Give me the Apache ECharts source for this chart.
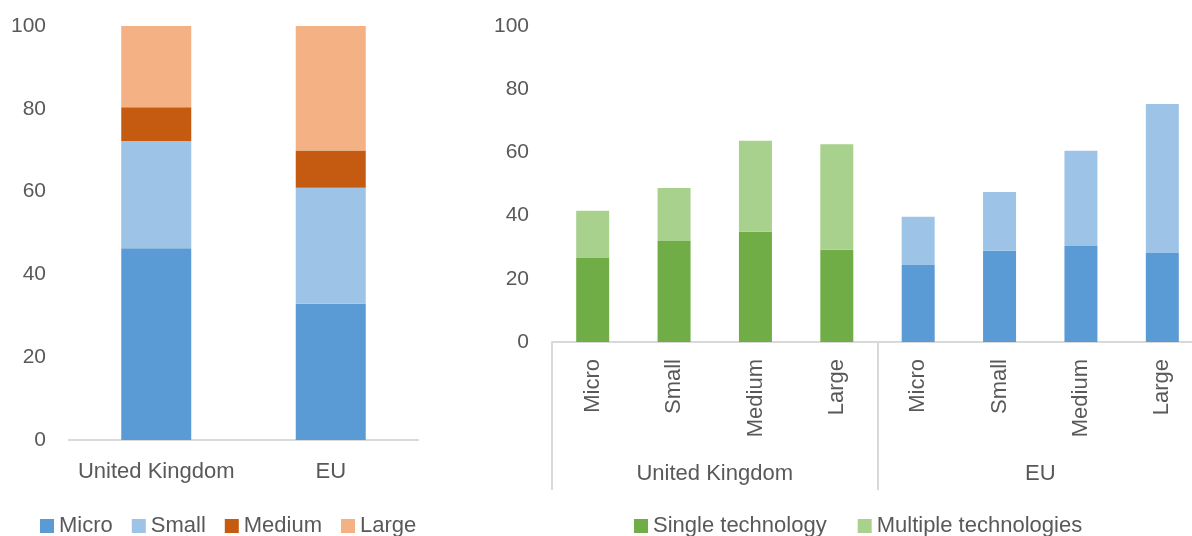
<!DOCTYPE html>
<html>
<head>
<meta charset="utf-8">
<script src="https://cdn.jsdelivr.net/npm/echarts@6/dist/echarts.min.js"></script>
<style>
html,body{margin:0;padding:0;background:#fff;overflow:hidden;width:1192px;height:536px;}
#c{width:1212px;height:536px;}
</style>
</head>
<body>
<div id="c"></div>
<script>
// ---- Left chart data ----
var leftCategories = ['United Kingdom', 'EU'];
var leftSeriesNames = ['Micro', 'Small', 'Medium', 'Large'];
var leftMicro = [46.3, 32.9];
var leftSmall = [25.9, 28.0];
var leftMedium = [8.2, 9.0];
var leftLarge = [19.6, 30.1];

// ---- Right chart data ----
var rightGroups = ['United Kingdom', 'EU'];
var rightSizes = ['Micro', 'Small', 'Medium', 'Large', 'Micro', 'Small', 'Medium', 'Large'];
var ukSingle = [26.6, 32.0, 34.9, 29.2];
var ukMultiple = [14.9, 16.7, 28.8, 33.4];
var euSingle = [24.4, 28.9, 30.4, 28.2];
var euMultiple = [15.2, 18.6, 30.1, 47.1];
var rightSeriesNames = ['Single technology', 'Multiple technologies'];

var yTicks = [0, 20, 40, 60, 80, 100];

var FONT = 'Liberation Sans';
var FS = 22;
var TXT = '#595959';
var AX = '#D9D9D9';
var C_MICRO = '#5B9BD5', C_SMALL = '#9DC3E6', C_MEDIUM = '#C55A11', C_LARGE = '#F4B183';
var C_G1 = '#70AD47', C_G2 = '#A9D18E';

var chart = echarts.init(document.getElementById('c'), null, {renderer: 'canvas'});

function leftSeries(name, data, color) {
  return {
    name: name, type: 'bar', stack: 'left', xAxisIndex: 0, yAxisIndex: 0,
    barWidth: 70, data: data, itemStyle: {color: color}
  };
}

var singleData = ukSingle.map(function (v) { return {value: v}; })
  .concat(euSingle.map(function (v) { return {value: v, itemStyle: {color: C_MICRO}}; }));
var multipleData = ukMultiple.map(function (v) { return {value: v}; })
  .concat(euMultiple.map(function (v) { return {value: v, itemStyle: {color: C_SMALL}}; }));

var yAxisCommon = {
  type: 'value', min: yTicks[0], max: yTicks[yTicks.length - 1], interval: 20,
  axisLine: {show: false}, axisTick: {show: false}, splitLine: {show: false},
  axisLabel: {color: TXT, fontFamily: FONT, fontSize: 21, margin: 23}
};

chart.setOption({
  animation: false,
  textStyle: {fontFamily: FONT},
  grid: [
    {left: 69, width: 349, top: 26, bottom: 536 - 440},
    {left: 552, width: 651, top: 26, bottom: 536 - 342}
  ],
  legend: [
    {
      data: leftSeriesNames, left: 35, top: 510, itemWidth: 14, itemHeight: 14, itemGap: 19,
      icon: 'rect', textStyle: {color: TXT, fontFamily: FONT, fontSize: FS}
    },
    {
      data: rightSeriesNames, left: 629, top: 510, itemWidth: 14, itemHeight: 14, itemGap: 31,
      icon: 'rect', textStyle: {color: TXT, fontFamily: FONT, fontSize: FS}
    }
  ],
  xAxis: [
    {
      type: 'category', gridIndex: 0, data: leftCategories,
      axisLine: {lineStyle: {color: AX, width: 2}}, axisTick: {show: false},
      axisLabel: {color: TXT, fontFamily: FONT, fontSize: FS, margin: 21, interval: 0}
    },
    {
      type: 'category', gridIndex: 1, data: rightSizes,
      axisLine: {lineStyle: {color: AX, width: 2}}, axisTick: {show: false},
      axisLabel: {color: TXT, fontFamily: FONT, fontSize: FS, rotate: 90, margin: 17, interval: 0}
    },
    {
      type: 'category', gridIndex: 1, data: rightGroups, position: 'bottom',
      axisLine: {show: false},
      axisTick: {show: true, interval: 0, length: 148, lineStyle: {color: AX, width: 2}},
      axisLabel: {color: TXT, fontFamily: FONT, fontSize: FS, margin: 121, interval: 0}
    }
  ],
  yAxis: [
    Object.assign({gridIndex: 0}, yAxisCommon),
    Object.assign({gridIndex: 1}, yAxisCommon)
  ],
  series: [
    leftSeries(leftSeriesNames[0], leftMicro, C_MICRO),
    leftSeries(leftSeriesNames[1], leftSmall, C_SMALL),
    leftSeries(leftSeriesNames[2], leftMedium, C_MEDIUM),
    leftSeries(leftSeriesNames[3], leftLarge, C_LARGE),
    {
      name: rightSeriesNames[0], type: 'bar', stack: 'right', xAxisIndex: 1, yAxisIndex: 1,
      barWidth: 33, data: singleData, itemStyle: {color: C_G1}
    },
    {
      name: rightSeriesNames[1], type: 'bar', stack: 'right', xAxisIndex: 1, yAxisIndex: 1,
      barWidth: 33, data: multipleData, itemStyle: {color: C_G2}
    }
  ]
});
</script>
</body>
</html>
